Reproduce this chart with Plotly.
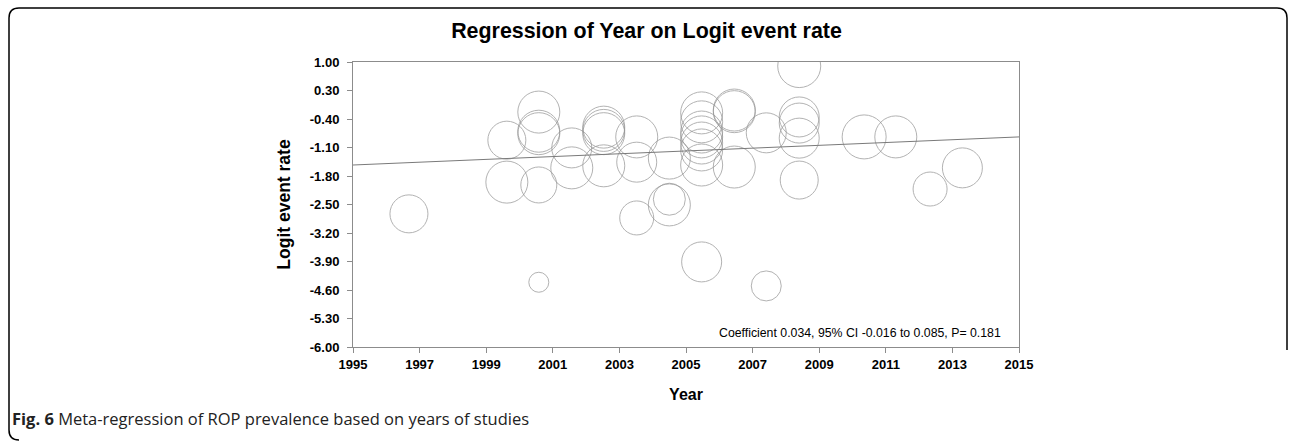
import plotly.graph_objects as go

# ---- data ----
years = [1996.68, 2000.58, 2000.58, 2000.58, 1999.62, 1999.62, 2000.58, 2001.57, 2001.57,
         2002.53, 2002.53, 2002.53, 2002.53, 2003.52, 2003.52, 2003.52, 2004.50, 2004.50,
         2004.50, 2005.47, 2005.47, 2005.47, 2005.47, 2005.47, 2005.47, 2005.47, 2005.47,
         2006.45, 2006.45, 2006.45, 2007.41, 2007.41, 2008.40, 2008.40, 2008.40, 2008.40,
         2008.40, 2010.35, 2011.30, 2012.33, 2013.30, 2000.58]
logit_rate = [-2.73, -0.23, -0.70, -0.76, -0.92, -1.95, -2.02, -1.11, -1.60,
              -0.60, -0.68, -0.76, -1.55, -0.84, -1.46, -2.83, -1.36, -2.37,
              -2.51, -0.25, -0.47, -0.72, -0.84, -0.99, -1.16, -1.53, -3.91,
              -0.18, -0.22, -1.58, -0.74, -4.50, 0.90, -0.35, -0.50, -0.87,
              -1.90, -0.84, -0.84, -2.12, -1.60, -4.41]
weights = [38, 42, 42, 42, 38, 42, 36, 40, 42,
           42, 42, 42, 42, 42, 40, 34, 42, 32,
           42, 42, 42, 42, 42, 42, 42, 42, 40,
           42, 42, 42, 40, 30, 43, 40, 40, 40,
           38, 44, 42, 34, 40, 20]
reg_x = [1995, 2015]
reg_y = [-1.53, -0.84]
y_ticks = [1.00, 0.30, -0.40, -1.10, -1.80, -2.50, -3.20, -3.90, -4.60, -5.30, -6.00]
x_ticks = [1995, 1997, 1999, 2001, 2003, 2005, 2007, 2009, 2011, 2013, 2015]

W, H = 1293, 442
L, R, T, B = 353, 1019, 62, 347

def px(x):
    return (x - L) / (R - L)

def py(y):
    return (B - y) / (B - T)

GRAY = "#8c8c8c"
FONT = "Liberation Sans, Arial, sans-serif"

fig = go.Figure()
fig.add_trace(go.Scatter(
    x=years, y=logit_rate, mode="markers",
    marker=dict(size=weights, sizemode="diameter", color="rgba(0,0,0,0)",
                line=dict(color="#939393", width=1)),
    showlegend=False, hoverinfo="x+y"))
fig.add_trace(go.Scatter(
    x=reg_x, y=reg_y, mode="lines", line=dict(color="#7a7a7a", width=1),
    showlegend=False))

fig.update_xaxes(range=[1995, 2015], tickvals=x_ticks, ticktext=[str(v) for v in x_ticks],
                 ticks="outside", ticklen=5, tickcolor=GRAY, showline=True, linecolor=GRAY,
                 linewidth=1, mirror=True, showgrid=False, zeroline=False,
                 tickfont=dict(family=FONT, size=13, color="black", weight="bold"),
                 title=dict(text="<b>Year</b>", font=dict(family=FONT, size=16, color="black"),
                            standoff=18))
fig.update_yaxes(range=[-6, 1], tickvals=y_ticks, ticktext=[f"{v:.2f}" for v in y_ticks],
                 ticks="outside", ticklen=5, tickcolor=GRAY, showline=True, linecolor=GRAY,
                 linewidth=1, mirror=True, showgrid=False, zeroline=False,
                 ticklabelstandoff=5,
                 tickfont=dict(family=FONT, size=13, color="black", weight="bold"),
                 title=dict(text="<b>Logit event rate</b>",
                            font=dict(family=FONT, size=17.5, color="black"), standoff=14))

# outer rounded frame (figure-level decoration)
fx0, fx1, fy0, fy1, rr = 9, 1287, 8, 440, 10
frame = (f"M {px(fx0 + rr)},{py(fy1)} Q {px(fx0)},{py(fy1)} {px(fx0)},{py(fy1 - rr)} "
         f"L {px(fx0)},{py(fy0 + rr)} Q {px(fx0)},{py(fy0)} {px(fx0 + rr)},{py(fy0)} "
         f"L {px(fx1 - rr)},{py(fy0)} Q {px(fx1)},{py(fy0)} {px(fx1)},{py(fy0 + rr)} "
         f"L {px(fx1)},{py(350)}")
fig.add_shape(type="path", path=frame, xref="paper", yref="paper",
              line=dict(color="black", width=1.5), layer="above")

fig.add_annotation(text="Coefficient 0.034, 95% CI -0.016 to 0.085, P= 0.181",
                   xref="paper", yref="paper", x=px(1003), y=py(333),
                   xanchor="right", yanchor="middle", showarrow=False,
                   font=dict(family=FONT, size=12.3, color="black"))
fig.add_annotation(text="<b>Fig. 6</b> Meta-regression of ROP prevalence based on years of studies",
                   xref="paper", yref="paper", x=px(10), y=py(419),
                   xanchor="left", yanchor="middle", showarrow=False,
                   font=dict(family="Open Sans, sans-serif", size=16.5, color="#222222"))

fig.update_layout(
    width=W, height=H, autosize=False,
    margin=dict(l=L, r=W - R, t=T, b=H - B, pad=0),
    paper_bgcolor="white", plot_bgcolor="white",
    title=dict(text="<b>Regression of Year on Logit event rate</b>", x=0.5, xref="container",
               xanchor="center", y=1 - 31 / H, yanchor="middle",
               font=dict(family=FONT, size=21.4, color="black")),
)

fig.write_html("out.html", config={"displayModeBar": False},
               post_script="document.body.style.margin='0';")
